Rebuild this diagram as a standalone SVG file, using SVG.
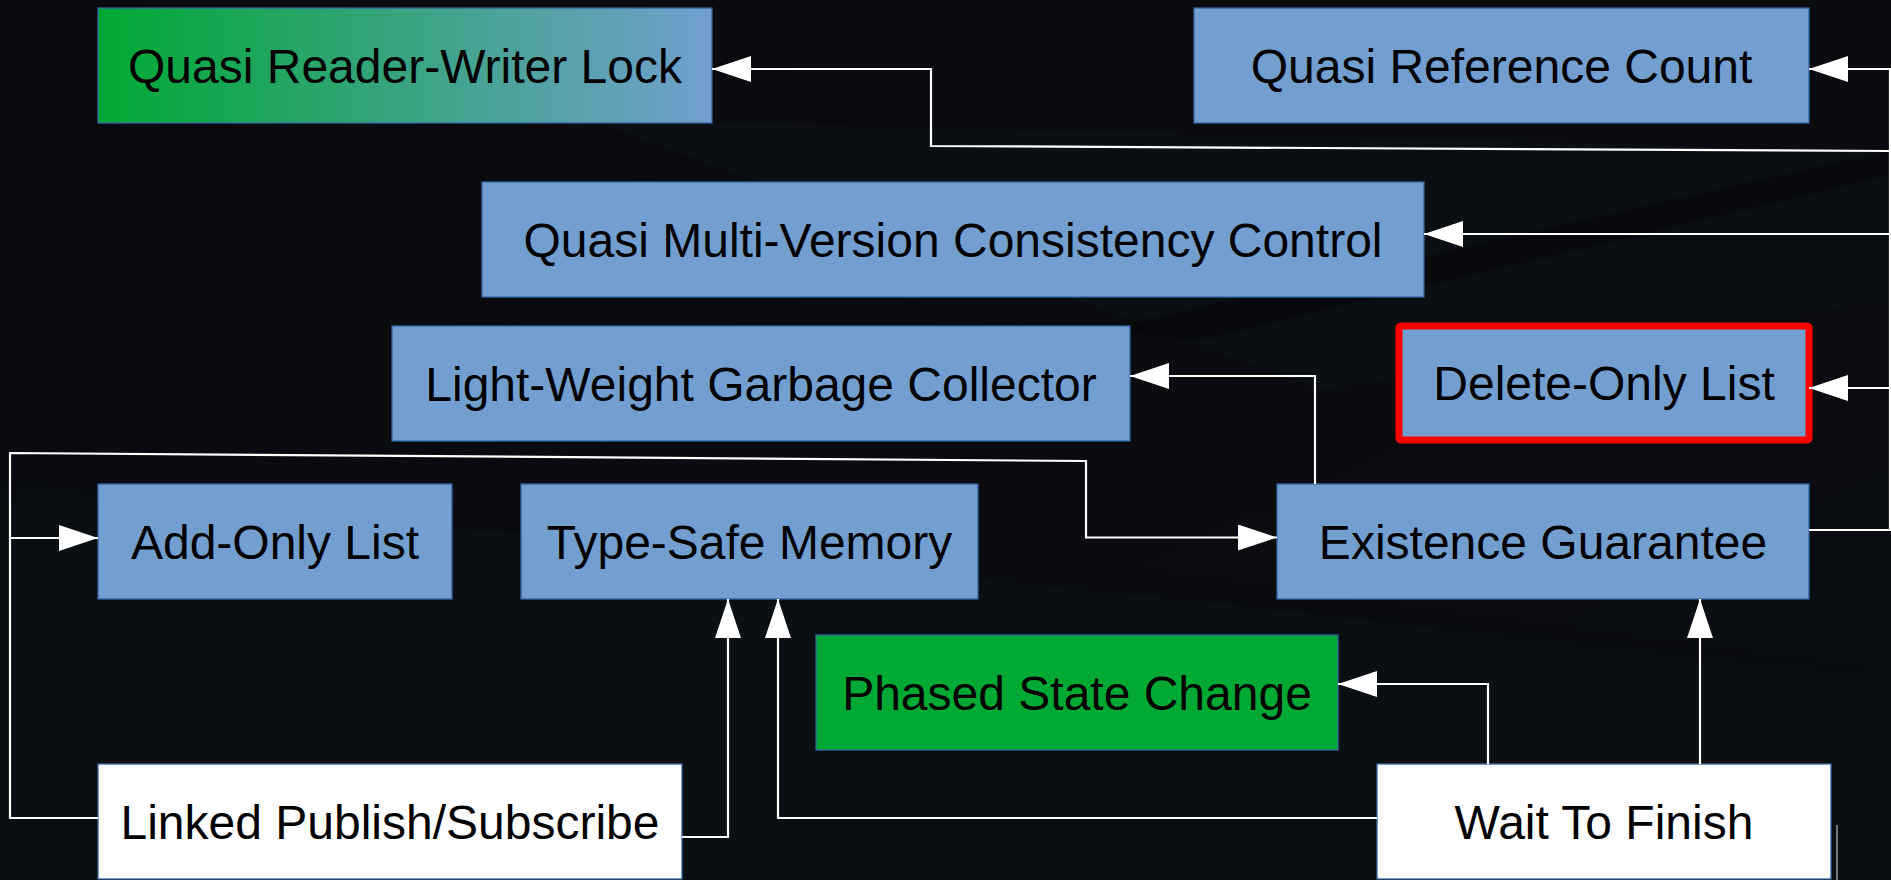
<svg xmlns="http://www.w3.org/2000/svg" width="1891" height="880" viewBox="0 0 1891 880">
  <defs>
    <linearGradient id="gradRW" x1="0" y1="0" x2="1" y2="0">
      <stop offset="0" stop-color="#00a933"/>
      <stop offset="1" stop-color="#729fcf"/>
    </linearGradient>
    <linearGradient id="bg" x1="0" y1="0" x2="1" y2="1">
      <stop offset="0" stop-color="#0a0a0e"/>
      <stop offset="1" stop-color="#0a0d11"/>
    </linearGradient>
    <marker id="arr" markerUnits="userSpaceOnUse" markerWidth="40" markerHeight="26" refX="39" refY="13" orient="auto">
      <path d="M0,0 L39,13 L0,26 Z" fill="#ffffff"/>
    </marker>
    <style>
      .node rect { stroke: #3465a4; stroke-width: 1.3; }
      .blue { fill: #729fcf; }
      .green { fill: #00a933; }
      .white { fill: #ffffff; }
      .node text { font-family: "Liberation Sans", Arial, sans-serif; font-size: 48px; fill: #000000; text-anchor: middle; }
      .conn path { fill: none; stroke: #ffffff; stroke-width: 2.2; }
    </style>
  </defs>

  <!-- background -->
  <rect x="0" y="0" width="1891" height="880" fill="url(#bg)"/>
  <polygon points="0,480 1891,672 1891,880 0,880" fill="#0a1015" opacity="0.9"/>
  <polygon points="590,120 1891,150 1891,300 1320,390" fill="#0b1016" opacity="0.6"/>
  <polygon points="1100,330 1891,150 1891,175 1200,340" fill="#050608" opacity="0.6"/>
  <polygon points="0,480 900,540 1891,672 1891,690 900,560 0,500" fill="#07090c" opacity="0.5"/>

  <!-- nodes -->
  <g id="quasi-reader-writer-lock" class="node">
    <rect x="98" y="8" width="614" height="115" fill="url(#gradRW)"/>
    <text x="405" y="82.5">Quasi Reader-Writer Lock</text>
  </g>
  <g id="quasi-reference-count" class="node">
    <rect class="blue" x="1194" y="8" width="615" height="115"/>
    <text x="1501.5" y="82.5">Quasi Reference Count</text>
  </g>
  <g id="quasi-mvcc" class="node">
    <rect class="blue" x="482" y="182" width="942" height="115"/>
    <text x="953" y="256.5">Quasi Multi-Version Consistency Control</text>
  </g>
  <g id="light-weight-gc" class="node">
    <rect class="blue" x="392" y="326" width="738" height="115"/>
    <text x="761" y="400.5">Light-Weight Garbage Collector</text>
  </g>
  <g id="delete-only-list" class="node">
    <rect class="blue" x="1399" y="326" width="410" height="114" rx="2" style="stroke:#ff0000;stroke-width:7"/>
    <text x="1604" y="400">Delete-Only List</text>
  </g>
  <g id="add-only-list" class="node">
    <rect class="blue" x="98" y="484" width="354" height="115"/>
    <text x="275" y="558.5">Add-Only List</text>
  </g>
  <g id="type-safe-memory" class="node">
    <rect class="blue" x="521" y="484" width="457" height="115"/>
    <text x="749.5" y="558.5">Type-Safe Memory</text>
  </g>
  <g id="existence-guarantee" class="node">
    <rect class="blue" x="1277" y="484" width="532" height="115"/>
    <text x="1543" y="558.5">Existence Guarantee</text>
  </g>
  <g id="phased-state-change" class="node">
    <rect class="green" x="816" y="635" width="522" height="115"/>
    <text x="1077" y="709.5">Phased State Change</text>
  </g>
  <g id="linked-publish-subscribe" class="node">
    <rect class="white" x="98" y="764" width="584" height="115"/>
    <text x="390" y="838.5">Linked Publish/Subscribe</text>
  </g>
  <g id="wait-to-finish" class="node">
    <rect class="white" x="1377" y="764" width="454" height="115"/>
    <text x="1604" y="838.5">Wait To Finish</text>
  </g>

  <!-- connectors -->
  <g id="connectors" class="conn">
    <path d="M1809,530 H1890 V69 H1809" marker-end="url(#arr)"/>
    <path d="M1890,151 L931,146 V69 H712" marker-end="url(#arr)"/>
    <path d="M1890,234 H1424" marker-end="url(#arr)"/>
    <path d="M1890,388 H1809" marker-end="url(#arr)"/>
    <path d="M1315,484 V376 H1130" marker-end="url(#arr)"/>
    <path d="M98,818 H10 V453 L1086,461 V537.5 H1277" marker-end="url(#arr)"/>
    <path d="M10,538 H98" marker-end="url(#arr)"/>
    <path d="M682,837 H728 V599" marker-end="url(#arr)"/>
    <path d="M1377,818 H778 V599" marker-end="url(#arr)"/>
    <path d="M1488,764 V684 H1338" marker-end="url(#arr)"/>
    <path d="M1700,764 V599" marker-end="url(#arr)"/>
    <path d="M1837,825 V880" style="stroke:#9a9a9a;stroke-width:1.5"/>
  </g>
</svg>
